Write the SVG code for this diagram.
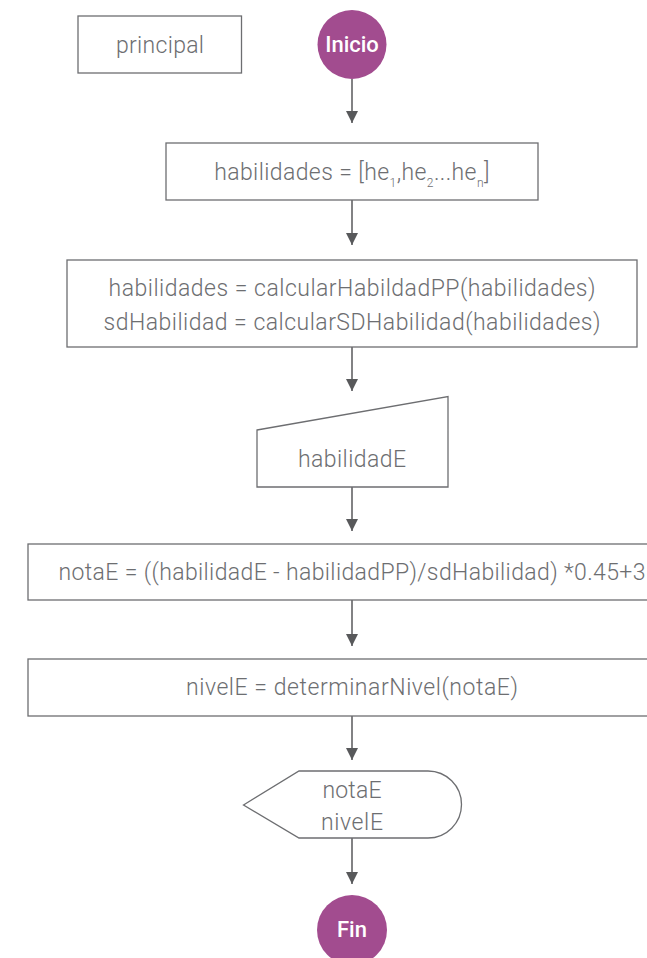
<svg xmlns="http://www.w3.org/2000/svg" width="647" height="958" viewBox="0 0 647 958">
<defs>
<style>
.box{fill:#fff;stroke:#6d6e71;stroke-width:1.3}
.t{font-family:Roboto,"Liberation Sans",sans-serif;font-weight:300;font-size:23px;fill:#6d6e71;text-anchor:middle}
.term{fill:#a24c8f}
.tt{font-family:Roboto,"Liberation Sans",sans-serif;font-weight:500;font-size:22px;fill:#fff;text-anchor:middle}
.conn{stroke:#58595b;stroke-width:1.5;fill:none;marker-end:url(#ah)}
</style>
<marker id="ah" viewBox="0 0 12 16" refX="12" refY="6" markerWidth="12" markerHeight="16" markerUnits="userSpaceOnUse" orient="auto">
<path d="M0,0 L12,6 L0,12 Z" fill="#58595b"/>
</marker>
</defs>
<rect width="647" height="958" fill="#fff"/>
<g id="connectors">
<line class="conn" x1="352" y1="79" x2="352" y2="123"/>
<line class="conn" x1="352" y1="200" x2="352" y2="245"/>
<line class="conn" x1="352" y1="347" x2="352" y2="391"/>
<line class="conn" x1="352" y1="487" x2="352" y2="531"/>
<line class="conn" x1="352" y1="600" x2="352" y2="646"/>
<line class="conn" x1="352" y1="716" x2="352" y2="760"/>
<line class="conn" x1="352" y1="838" x2="352" y2="884"/>
</g>
<g id="principal">
<rect class="box" x="78" y="16" width="163.5" height="57"/>
<text class="t" x="160" y="53" textLength="88">principal</text>
</g>
<g id="inicio">
<circle class="term" cx="352" cy="44.5" r="34.5"/>
<text class="tt" x="352" y="52">Inicio</text>
</g>
<g id="init">
<rect class="box" x="166" y="143" width="372" height="57"/>
<text class="t" x="352" y="180" letter-spacing="0.4">habilidades = [he<tspan font-size="12" dy="7">1</tspan><tspan dy="-7">,he</tspan><tspan font-size="12" dy="7">2</tspan><tspan dy="-7">...he</tspan><tspan font-size="12" dy="7">n</tspan><tspan dy="-7">]</tspan></text>
</g>
<g id="calc">
<rect class="box" x="67" y="260" width="570" height="87"/>
<text class="t" x="352" y="296" textLength="487">habilidades = calcularHabildadPP(habilidades)</text>
<text class="t" x="352" y="330" textLength="497">sdHabilidad = calcularSDHabilidad(habilidades)</text>
</g>
<g id="input">
<path class="box" d="M257,430 L448,396.5 L448,487 L257,487 Z"/>
<text class="t" x="352" y="467" textLength="108">habilidadE</text>
</g>
<g id="nota">
<rect class="box" x="28" y="544" width="648" height="56"/>
<text class="t" x="352" y="580" textLength="587">notaE = ((habilidadE - habilidadPP)/sdHabilidad) *0.45+3</text>
</g>
<g id="nivel">
<rect class="box" x="28" y="659" width="648" height="57"/>
<text class="t" x="352" y="695" textLength="332">nivelE = determinarNivel(notaE)</text>
</g>
<g id="display">
<path class="box" d="M243.5,805 L299,771 L428,771 A33.5,33.5 0 0 1 428,838 L299,838 Z"/>
<text class="t" x="352" y="798" textLength="59">notaE</text>
<text class="t" x="352" y="830" textLength="62">nivelE</text>
</g>
<g id="fin">
<circle class="term" cx="352" cy="930" r="35"/>
<text class="tt" x="352" y="937">Fin</text>
</g>
</svg>
